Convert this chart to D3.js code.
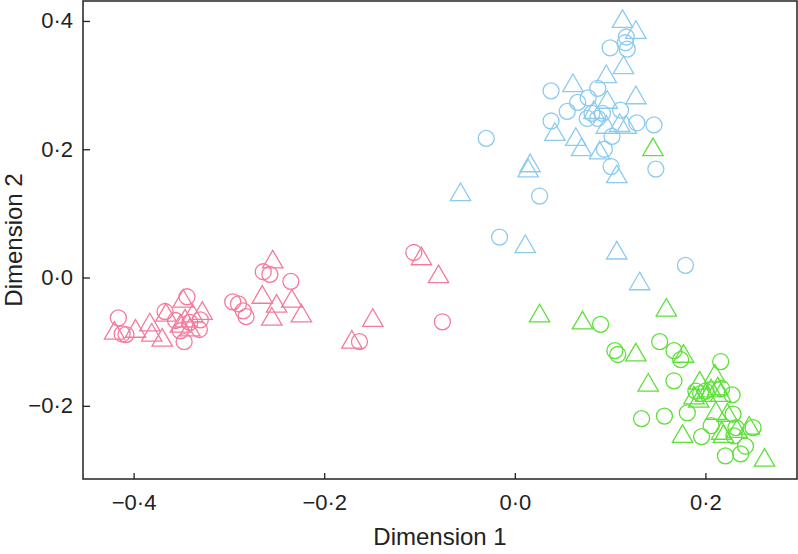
<!DOCTYPE html>
<html>
<head>
<meta charset="utf-8">
<script src="https://cdn.jsdelivr.net/npm/d3@7/dist/d3.min.js"></script>
<style>
  html, body { margin: 0; padding: 0; background: #fff; }
  svg { display: block; }
  text { font-family: "Liberation Sans", Arial, Helvetica, sans-serif; }
</style>
</head>
<body>
<svg id="chart" width="798" height="554"></svg>
<script>
// ---- Data (Dimension 1, Dimension 2) ----
const pinkCircles = [
  [-0.416,-0.063],[-0.412,-0.088],[-0.408,-0.089],[-0.367,-0.053],[-0.344,-0.030],
  [-0.356,-0.067],[-0.347,-0.100],[-0.331,-0.081],[-0.330,-0.066],[-0.341,-0.070],
  [-0.351,-0.083],[-0.296,-0.038],[-0.290,-0.041],[-0.285,-0.052],[-0.282,-0.061],
  [-0.264,0.009],[-0.257,0.005],[-0.235,-0.006],[-0.106,0.039],[-0.163,-0.100],
  [-0.076,-0.069]
];
const pinkTriangles = [
  [-0.420,-0.083],[-0.398,-0.080],[-0.383,-0.070],[-0.381,-0.086],[-0.370,-0.094],
  [-0.366,-0.055],[-0.348,-0.033],[-0.328,-0.052],[-0.338,-0.056],[-0.346,-0.064],
  [-0.351,-0.072],[-0.341,-0.078],[-0.254,0.028],[-0.265,-0.027],[-0.250,-0.041],
  [-0.255,-0.061],[-0.234,-0.033],[-0.224,-0.056],[-0.098,0.033],[-0.080,0.005],
  [-0.149,-0.063],[-0.171,-0.097]
];
const blueCircles = [
  [0.117,0.375],[0.116,0.366],[0.100,0.358],[0.118,0.356],[0.038,0.291],
  [0.087,0.295],[0.077,0.280],[0.066,0.273],[0.055,0.259],[0.111,0.261],
  [0.081,0.256],[0.087,0.248],[0.076,0.248],[0.092,0.256],[0.038,0.244],
  [0.128,0.241],[0.146,0.238],[0.102,0.220],[0.094,0.200],[0.101,0.173],
  [0.148,0.169],[-0.030,0.217],[0.026,0.127],[-0.016,0.063],[0.179,0.019]
];
const blueTriangles = [
  [0.113,0.403],[0.127,0.386],[0.114,0.331],[0.096,0.317],[0.061,0.303],
  [0.097,0.277],[0.127,0.284],[0.083,0.261],[0.096,0.238],[0.110,0.241],
  [0.117,0.238],[0.042,0.227],[0.064,0.219],[0.070,0.203],[0.089,0.198],
  [0.107,0.161],[0.016,0.178],[0.014,0.170],[-0.057,0.133],[0.011,0.052],
  [0.107,0.042],[0.131,-0.006]
];
const greenCircles = [
  [0.090,-0.073],[0.105,-0.114],[0.108,-0.120],[0.152,-0.100],[0.167,-0.114],
  [0.174,-0.128],[0.216,-0.131],[0.167,-0.161],[0.190,-0.177],[0.195,-0.181],
  [0.200,-0.177],[0.217,-0.173],[0.228,-0.183],[0.181,-0.211],[0.157,-0.216],
  [0.133,-0.220],[0.229,-0.213],[0.206,-0.231],[0.232,-0.234],[0.230,-0.247],
  [0.250,-0.234],[0.196,-0.248],[0.242,-0.263],[0.237,-0.275],[0.221,-0.278]
];
const greenTriangles = [
  [0.026,-0.056],[0.071,-0.067],[0.127,-0.117],[0.159,-0.047],[0.177,-0.119],
  [0.140,-0.164],[0.194,-0.161],[0.210,-0.150],[0.188,-0.184],[0.200,-0.180],
  [0.206,-0.173],[0.213,-0.170],[0.216,-0.180],[0.193,-0.189],[0.211,-0.208],
  [0.223,-0.211],[0.217,-0.239],[0.219,-0.244],[0.233,-0.236],[0.246,-0.231],
  [0.176,-0.244],[0.262,-0.281],[0.145,0.203]
];
const xTicks = [-0.4, -0.2, 0.0, 0.2];
const yTicks = [-0.2, 0.0, 0.2, 0.4];
const xLabel = "Dimension 1";
const yLabel = "Dimension 2";

const groups = [
  { data: pinkCircles,    color: "#F47B9B", shape: "circle" },
  { data: pinkTriangles,  color: "#F47B9B", shape: "triangle" },
  { data: blueCircles,    color: "#8CCBEF", shape: "circle" },
  { data: blueTriangles,  color: "#8CCBEF", shape: "triangle" },
  { data: greenCircles,   color: "#5EE03A", shape: "circle" },
  { data: greenTriangles, color: "#5EE03A", shape: "triangle" }
];

// ---- Layout ----
const L = 83, R = 797, T = 1, B = 479;
const x = d3.scaleLinear().domain([-0.4531, 0.2961]).range([L, R]);
const y = d3.scaleLinear().domain([-0.3141, 0.4311]).range([B, T]);

const svg = d3.select("#chart");
const fmt = v => d3.format(".1f")(v).replace(".", "\u00B7");

// points
const triPath = "M0,-9.2L10.2,8.4L-10.2,8.4Z";
groups.forEach(g => {
  const sel = svg.append("g").attr("fill", "none").attr("stroke", g.color).attr("stroke-width", 1.3);
  if (g.shape === "circle") {
    sel.selectAll("circle").data(g.data).join("circle")
      .attr("cx", d => x(d[0])).attr("cy", d => y(d[1])).attr("r", 8);
  } else {
    sel.selectAll("path").data(g.data).join("path")
      .attr("d", triPath)
      .attr("transform", d => `translate(${x(d[0])},${y(d[1])})`);
  }
});

// axes
const xAxis = svg.append("g").attr("transform", `translate(0,${B})`)
  .call(d3.axisBottom(x).tickValues(xTicks).tickFormat(fmt).tickSize(-6).tickPadding(15));
const yAxis = svg.append("g").attr("transform", `translate(${L},0)`)
  .call(d3.axisLeft(y).tickValues(yTicks).tickFormat(fmt).tickSize(-7).tickPadding(10));
[xAxis, yAxis].forEach(a => {
  a.select(".domain").remove();
  a.selectAll(".tick line").attr("stroke", "#222").attr("stroke-width", 1.3);
  a.selectAll(".tick text").attr("fill", "#222").style("font-size", "22px")
    .style("font-family", '"Liberation Sans", Arial, sans-serif');
});

// frame
svg.append("rect").attr("x", L).attr("y", T).attr("width", R - L).attr("height", B - T)
  .attr("fill", "none").attr("stroke", "#222").attr("stroke-width", 1.5);

// axis titles
svg.append("text").attr("x", (L + R) / 2).attr("y", 545).attr("text-anchor", "middle")
  .attr("fill", "#222").style("font-size", "24px").text(xLabel);
svg.append("text").attr("transform", `translate(22,${(T + B) / 2}) rotate(-90)`)
  .attr("text-anchor", "middle").attr("fill", "#222").style("font-size", "24px").text(yLabel);
</script>
</body>
</html>
